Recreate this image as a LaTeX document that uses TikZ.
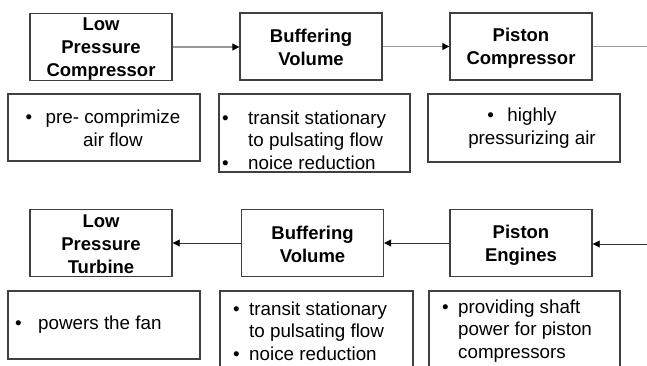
\documentclass[tikz,border=0pt]{standalone}
\usepackage{fontspec}
\setmainfont{Liberation Sans}
\usetikzlibrary{arrows.meta,positioning}
\newcommand{\bul}[1]{\makebox[#1][l]{\textbullet}}
\newcommand{\ts}{\rule[-2pt]{0pt}{19pt}}

\begin{document}
\begin{tikzpicture}[x=1pt, y=-1pt,
  blk/.style={rectangle, draw=black!75, line width=1.4pt, minimum width=142pt,
              minimum height=67pt, align=center, inner sep=0pt,
              font=\fontsize{18.5}{23}\selectfont\bfseries},
  note/.style={rectangle, draw=black!75, line width=1.4pt, inner sep=0pt},
  txt/.style={inner sep=0pt, font=\fontsize{18.8}{22.5}\selectfont},
  flowtop/.style={draw=black!40, line width=1.3pt, -{Triangle[length=7pt, width=7pt, color=black]}},
  flowbot/.style={draw=black!80, line width=0.9pt, -{Triangle[length=7pt, width=7pt, color=black]}}
]
  \clip (0,0) rectangle (647,365);

  %--- TOP ROW ---
  \node[blk] (lpc) at (101,47)   {\ts Low\\\ts Pressure\\\ts Compressor};
  \node[blk] (bvt) at (311,46.5) {\ts Buffering\\\ts Volume};
  \node[blk] (pc)  at (521,46.5) {\ts Piston\\\ts Compressor};
  \coordinate (topend) at (647,46.5);

  \draw[flowtop] (lpc.east) -- (lpc.east -| bvt.west);
  \draw[flowtop] (bvt.east) -- (pc.west);
  \draw[draw=black!40, line width=1.3pt] (pc.east) -- (topend);

  %--- BOTTOM ROW ---
  \node[blk] (lpt) at (101,243)   {\ts Low\\\ts Pressure\\\ts Turbine};
  \node[blk] (bvb) at (312.5,243) {\ts Buffering\\\ts Volume};
  \node[blk] (pe)  at (521,243)   {\ts Piston\\\ts Engines};
  \coordinate (botend) at (647,244);

  \draw[flowbot] (botend) -- (botend -| pe.east);
  \draw[flowbot] (pe.west) -- (pe.west -| bvb.east);
  \draw[flowbot] (bvb.west) -- (bvb.west -| lpt.east);

  %--- Notes ---
  \foreach \n/\x/\y/\w/\h in {lpcn/104/127.5/192/67, bvtn/314.5/133/191/78,
                              pcn/524/128/192/68, lptn/104/325/192/68,
                              bvbn/316.5/330/193/78, pen/524.5/330/191/78}{
    \node[note, minimum width=\w pt, minimum height=\h pt] (\n) at (\x,\y) {};
  }

  % note texts
  \node[txt, align=center] (lpct) at (113,128.5)
    {\llap{\bul{20pt}}pre- comprimize\\air flow};
  \node[txt, align=left, anchor=west] (bvtt) at (222,140)
    {\bul{26pt}transit stationary\\\hspace*{26pt}to pulsating flow\\\bul{26pt}noice reduction};
  \node[txt, align=center] (pct) at (532,128)
    {\llap{\bul{20pt}}highly\\pressurizing air};
  \node[txt, align=left, anchor=west] (lptt) at (15,325)
    {\bul{23pt}powers the fan};
  \node[txt, align=left, anchor=west] (bvbt) at (233,331)
    {\bul{16pt}transit stationary\\\hspace*{16pt}to pulsating flow\\\bul{16pt}noice reduction};
  \node[txt, align=left, anchor=west] (pet) at (442,331)
    {\bul{16pt}providing shaft\\\hspace*{16pt}power for piston\\\hspace*{16pt}compressors};

\end{tikzpicture}
\end{document}
